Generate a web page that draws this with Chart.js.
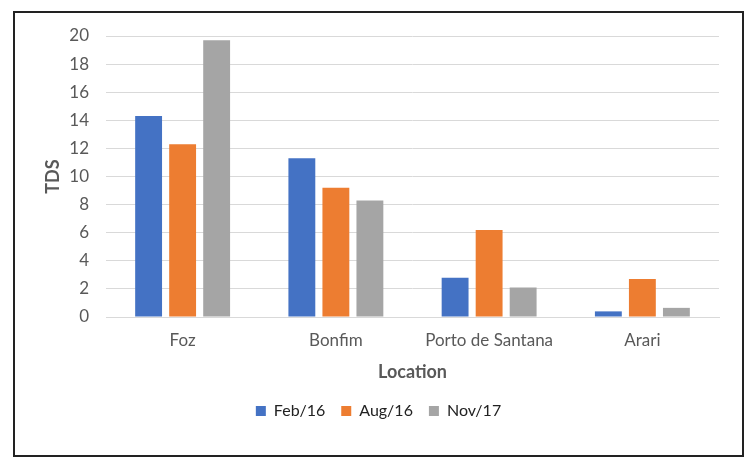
<!DOCTYPE html>
<html>
<head>
<meta charset="utf-8">
<script src="https://cdn.jsdelivr.net/npm/chart.js@4"></script>
<style>
  html, body { margin: 0; padding: 0; background: #fff; }
  #wrap { position: relative; width: 751px; height: 465px; }
  #frame { position: absolute; left: 13px; top: 11px; width: 727px; height: 442px;
           border: 2px solid #222; pointer-events: none; }
</style>
</head>
<body>
<div id="wrap">
  <canvas id="chart" width="751" height="465"></canvas>
  <div id="frame"></div>
</div>
<script>
// data
const locations = ['Foz', 'Bonfim', 'Porto de Santana', 'Arari'];
const feb16 = [14.3, 11.3, 2.8, 0.4];
const aug16 = [12.3, 9.2, 6.2, 2.7];
const nov17 = [19.7, 8.3, 2.1, 0.65];

const font = "Lato, 'Open Sans', sans-serif";

new Chart(document.getElementById('chart'), {
    type: 'bar',
    data: {
        labels: locations,
        datasets: [
            { label: 'Feb/16', data: feb16, backgroundColor: '#4472C4' },
            { label: 'Aug/16', data: aug16, backgroundColor: '#ED7D31' },
            { label: 'Nov/17', data: nov17, backgroundColor: '#A5A5A5' }
        ]
    },
    options: {
        responsive: false,
        animation: false,
        categoryPercentage: 0.666,
        barPercentage: 0.79,
        layout: { padding: { left: 38, right: 32, top: 36, bottom: 36 } },
        scales: {
            x: {
                grid: { display: false, drawTicks: false },
                border: { display: true, color: '#D9D9D9' },
                ticks: { color: '#595959', font: { family: font, size: 17 }, padding: 13 },
                title: { display: true, text: 'Location', color: '#595959',
                         font: { family: font, size: 18, weight: 'bold' }, padding: { top: 0, bottom: 4 } },
                afterFit: function (scale) { scale.height = 70; }
            },
            y: {
                min: 0, max: 20,
                ticks: { stepSize: 2, color: '#595959', font: { family: font, size: 17 }, padding: 17 },
                grid: { color: '#D9D9D9', drawTicks: false },
                border: { display: false },
                title: { display: true, text: 'TDS', color: '#595959',
                         font: { family: font, size: 18, weight: 'bold' }, padding: { bottom: 6 } },
                afterFit: function (scale) { scale.width = 68; }
            }
        },
        plugins: {
            legend: {
                position: 'bottom',
                labels: { boxWidth: 10, boxHeight: 10, color: '#222', padding: 16,
                          font: { family: font, size: 16 } }
            },
            tooltip: { enabled: false }
        }
    }
});
</script>
</body>
</html>
